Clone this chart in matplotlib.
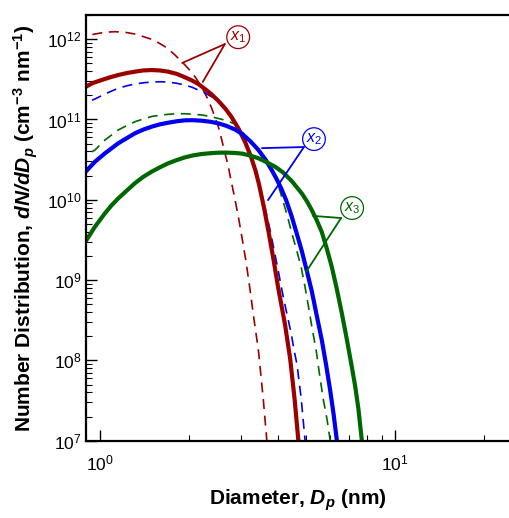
import numpy as np
import matplotlib
matplotlib.use("Agg")
import matplotlib.pyplot as plt
from matplotlib.ticker import LogLocator, NullFormatter

plt.rcParams['font.family'] = ['Liberation Sans', 'DejaVu Sans']
plt.rcParams['mathtext.fontset'] = 'custom'
plt.rcParams['mathtext.rm'] = 'Liberation Sans'
plt.rcParams['mathtext.it'] = 'Liberation Sans:italic'
plt.rcParams['mathtext.bf'] = 'Liberation Sans:bold:italic'

# values (diameter in nm, dN/dDp in cm-3 nm-1)
d_x1_solid = [0.896, 0.947, 1.013, 1.081, 1.153, 1.235, 1.314, 1.399, 1.497, 1.597, 1.704, 1.824,
              1.942, 2.051, 2.154, 2.269, 2.391, 2.512, 2.653, 2.780, 2.938, 3.102, 3.251, 3.367,
              3.460, 3.598, 3.727, 3.875, 4.013, 4.239, 4.407, 4.565, 4.702, 4.721]
n_x1_solid = [2.56e11, 2.85e11, 3.10e11, 3.35e11, 3.58e11, 3.79e11, 3.94e11, 4.08e11, 4.13e11, 4.08e11,
              3.94e11, 3.69e11, 3.35e11, 3.06e11, 2.77e11, 2.40e11, 2.05e11, 1.72e11, 1.38e11, 1.10e11,
              7.86e10, 5.26e10, 3.42e10, 2.29e10, 1.55e10, 7.90e9, 3.97e9, 1.78e9, 8.20e8, 2.76e8,
              1.07e8, 3.31e7, 1.0e7, 8.6e6]

d_x1_dash = [0.896, 0.962, 1.040, 1.124, 1.215, 1.314, 1.399, 1.497, 1.573, 1.661, 1.727, 1.796,
             1.867, 1.942, 2.019, 2.100, 2.166, 2.239, 2.314, 2.391, 2.453, 2.518, 2.582, 2.653,
             2.716, 2.780, 2.857, 2.944, 3.031, 3.127, 3.226, 3.328, 3.442, 3.578, 3.675, 3.689]
n_x1_dash = [1.10e12, 1.16e12, 1.22e12, 1.24e12, 1.22e12, 1.16e12, 1.08e12, 9.97e11, 9.09e11, 8.07e11,
             7.23e11, 6.36e11, 5.51e11, 4.77e11, 4.08e11, 3.41e11, 2.85e11, 2.33e11, 1.83e11, 1.38e11,
             1.07e11, 8.14e10, 5.72e10, 3.79e10, 2.71e10, 1.76e10, 1.08e10, 6.16e9, 3.34e9, 1.68e9,
             7.53e8, 3.19e8, 1.35e8, 3.21e7, 1.02e7, 8.6e6]

d_x2_solid = [0.896, 0.962, 1.040, 1.153, 1.235, 1.314, 1.399, 1.497, 1.597, 1.704, 1.824, 1.942,
              2.067, 2.211, 2.359, 2.518, 2.674, 2.868, 3.031, 3.226, 3.433, 3.626, 3.800, 3.951,
              4.108, 4.272, 4.459, 4.637, 4.830, 5.012, 5.219, 5.421, 5.645, 5.838, 6.023, 6.188,
              6.345, 6.370]
n_x2_solid = [2.25e10, 2.98e10, 3.79e10, 5.05e10, 5.88e10, 6.73e10, 7.46e10, 8.14e10, 8.71e10, 9.12e10,
              9.52e10, 9.77e10, 9.80e10, 9.66e10, 9.39e10, 8.96e10, 8.37e10, 7.51e10, 6.60e10, 5.40e10,
              4.23e10, 3.22e10, 2.42e10, 1.87e10, 1.40e10, 9.94e9, 6.28e9, 3.86e9, 2.30e9, 1.34e9,
              7.31e8, 3.68e8, 1.79e8, 8.77e7, 4.28e7, 2.15e7, 1.02e7, 8.6e6]

d_x2_dash = [0.896, 0.962, 1.040, 1.153, 1.235, 1.314, 1.399, 1.497, 1.597, 1.704, 1.824, 1.942,
             2.051, 2.154, 2.269, 2.391, 2.512, 2.653, 2.759, 2.868, 3.054, 3.226, 3.354, 3.487,
             3.626, 3.770, 3.890, 4.013, 4.141, 4.272, 4.442, 4.546, 4.655, 4.804, 4.953, 4.972]
n_x2_dash = [1.61e11, 1.80e11, 2.08e11, 2.45e11, 2.63e11, 2.77e11, 2.86e11, 2.93e11, 2.95e11, 2.93e11,
             2.82e11, 2.69e11, 2.52e11, 2.33e11, 2.14e11, 1.92e11, 1.68e11, 1.38e11, 1.17e11, 9.58e10,
             6.41e10, 3.83e10, 2.42e10, 1.44e10, 7.90e9, 4.21e9, 2.37e9, 1.34e9, 7.31e8, 4.24e8,
             2.19e8, 1.35e8, 8.77e7, 3.40e7, 1.02e7, 8.6e6]

d_x3_solid = [0.896, 0.962, 1.040, 1.090, 1.153, 1.235, 1.314, 1.399, 1.497, 1.597, 1.704, 1.824,
              1.942, 2.067, 2.211, 2.359, 2.518, 2.674, 2.868, 3.031, 3.226, 3.442, 3.655, 3.921,
              4.173, 4.466, 4.830, 5.032, 5.219, 5.421, 5.645, 5.861, 6.103, 6.335, 6.597, 6.848,
              7.132, 7.318, 7.509, 7.711, 7.741]
n_x3_solid = [3.07e9, 4.62e9, 6.79e9, 8.37e9, 1.04e10, 1.31e10, 1.61e10, 1.92e10, 2.24e10, 2.54e10,
              2.85e10, 3.13e10, 3.38e10, 3.57e10, 3.72e10, 3.80e10, 3.86e10, 3.87e10, 3.83e10, 3.76e10,
              3.56e10, 3.29e10, 2.96e10, 2.58e10, 2.19e10, 1.71e10, 1.20e10, 9.52e9, 7.46e9, 5.60e9,
              3.97e9, 2.51e9, 1.46e9, 7.97e8, 3.89e8, 1.90e8, 8.35e7, 4.85e7, 2.50e7, 1.02e7, 8.6e6]

d_x3_dash = [0.896, 0.962, 1.040, 1.153, 1.235, 1.314, 1.399, 1.497, 1.597, 1.704, 1.824, 1.942,
             2.067, 2.211, 2.359, 2.518, 2.674, 2.868, 3.054, 3.226, 3.433, 3.683, 3.830, 3.998,
             4.141, 4.306, 4.466, 4.637, 4.804, 4.953, 5.091, 5.232, 5.399, 5.549, 5.716, 5.884,
             6.023, 6.046]
n_x3_dash = [3.61e10, 4.17e10, 5.55e10, 7.40e10, 8.42e10, 9.39e10, 1.01e11, 1.09e11, 1.13e11, 1.16e11,
             1.18e11, 1.18e11, 1.16e11, 1.14e11, 1.09e11, 1.03e11, 9.71e10, 8.79e10, 6.79e10, 5.55e10,
             4.29e10, 3.13e10, 2.35e10, 1.62e10, 1.05e10, 6.47e9, 3.86e9, 2.37e9, 1.46e9, 8.20e8,
             4.62e8, 2.53e8, 1.35e8, 6.58e7, 3.21e7, 1.81e7, 1.02e7, 8.6e6]

red = '#9b0000'
blue = '#0000ee'
green = '#006600'

fig = plt.figure(figsize=(5.10, 5.18), dpi=100)
ax = fig.add_axes([0.1686, 0.1492, 0.8314, 0.8218])

dash = (6, (6, 4))
ax.plot(d_x1_dash, n_x1_dash, color=red, lw=1.2, linestyle=dash)
ax.plot(d_x2_dash, n_x2_dash, color=blue, lw=1.2, linestyle=dash)
ax.plot(d_x3_dash, n_x3_dash, color=green, lw=1.2, linestyle=dash)
ax.plot(d_x1_solid, n_x1_solid, color=red, lw=3.0)
ax.plot(d_x2_solid, n_x2_solid, color=blue, lw=3.0)
ax.plot(d_x3_solid, n_x3_solid, color=green, lw=3.0)

ax.set_xscale('log')
ax.set_yscale('log')
ax.set_xlim(0.897, 24.5)
ax.set_ylim(1e7, 2.0e12)

ax.xaxis.set_minor_locator(LogLocator(base=10, subs=np.arange(2, 10)))
ax.yaxis.set_minor_locator(LogLocator(base=10, subs=np.arange(2, 10)))
ax.xaxis.set_minor_formatter(NullFormatter())
ax.yaxis.set_minor_formatter(NullFormatter())
ax.tick_params(which='major', direction='in', length=8, width=1.0, labelsize=12.5)
ax.tick_params(which='minor', direction='in', length=4.5, width=0.8)
ax.tick_params(axis='x', which='major', pad=9)
ax.tick_params(axis='y', which='major', pad=3)
ax.spines['right'].set_visible(False)
for s in ['left', 'bottom', 'top']:
    ax.spines[s].set_linewidth(1.6)

ax.set_xlabel(r'Diameter, $\mathbf{D}_{\mathbf{p}}$ (nm)', fontsize=15, fontweight='bold', labelpad=10)
ax.set_ylabel(r'Number Distribution, $\mathbf{dN/dD}_{\mathbf{p}}$ (cm$^{\mathdefault{-3}}$ nm$^{\mathdefault{-1}}$)',
              fontsize=15, fontweight='bold', labelpad=5)

# circled labels with pointer lines
labels = [
    (r'$x_1$', red, (2.94, 1.06e12), (2.65, 8.7e11), [(1.90, 5.06e11), (2.23, 2.93e11)]),
    (r'$x_2$', blue, (5.31, 5.7e10), (4.91, 4.54e10), [(3.54, 4.4e10), (3.71, 9.9e9)]),
    (r'$x_3$', green, (7.15, 7.9e9), (6.56, 5.93e9), [(5.27, 6.3e9), (4.99, 1.26e9)]),
]
for txt, c, pos, vert, targets in labels:
    for t in targets:
        ax.annotate('', xy=t, xytext=vert,
                    arrowprops=dict(arrowstyle='-', color=c, lw=1.3, shrinkA=0, shrinkB=0))
    ax.text(pos[0], pos[1], txt, color=c, fontsize=11.5, ha='center', va='center',
            bbox=dict(boxstyle='circle,pad=0.2', fc='white', ec=c, lw=0.9))

fig.savefig('out.png', dpi=100)
